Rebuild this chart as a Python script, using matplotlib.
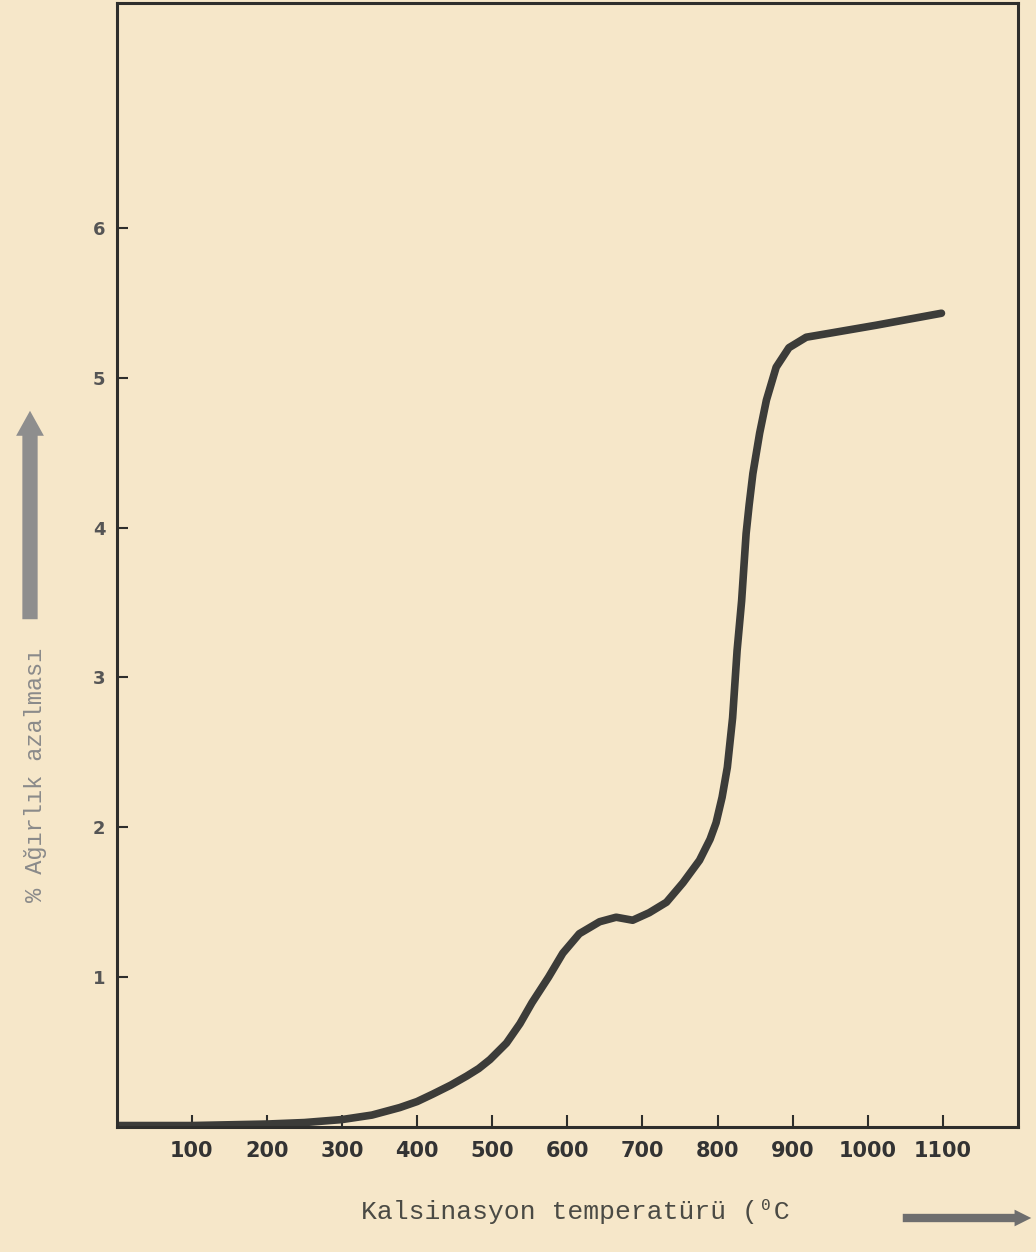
import matplotlib
matplotlib.use('Agg')
import matplotlib.pyplot as plt

# weight loss vs calcination temperature
temp = [0, 100, 200, 250, 300, 340, 377, 400, 421, 445, 466, 482, 497, 519, 537, 553, 575, 594, 616, 643, 665,
        687, 709, 732, 754, 776, 790, 798, 806, 813, 820, 826, 832, 838, 842, 847, 856, 865, 878,
        895, 918, 953, 1011, 1098]
loss = [0.01, 0.01, 0.02, 0.03, 0.05, 0.08, 0.13, 0.17, 0.22, 0.28, 0.34, 0.39, 0.45, 0.56, 0.69, 0.83, 1.00,
        1.16, 1.29, 1.37, 1.40, 1.38, 1.43, 1.50, 1.63, 1.78, 1.92, 2.03, 2.20, 2.40, 2.73, 3.18, 3.51, 3.96,
        4.15, 4.36, 4.63, 4.85, 5.07, 5.20, 5.27, 5.30, 5.35, 5.43]

xticks = [100, 200, 300, 400, 500, 600, 700, 800, 900, 1000, 1100]
yticks = [1, 2, 3, 4, 5, 6]

paper = '#f6e7c9'
ink = '#2e2e2c'

fig = plt.figure(figsize=(10.36, 12.52), dpi=100, facecolor=paper)
ax = fig.add_axes([0.1125, 0.0998, 0.8702, 0.8978], facecolor=paper)

ax.plot(temp, loss, '-', color='#3c3c39', lw=5.5, solid_capstyle='round', solid_joinstyle='round')

ax.set_xlim(0, 1200)
ax.set_ylim(0, 7.5)
ax.set_xticks(xticks)
ax.set_xticklabels([str(t) for t in xticks], fontsize=15, fontweight='bold', color='#333333')
ax.set_yticks(yticks)
ax.set_yticklabels([str(t) for t in yticks], fontsize=13, fontweight='bold', color='#555555')
ax.tick_params(axis='x', direction='in', length=9, width=1.5, color=ink, pad=10)
ax.tick_params(axis='y', direction='in', length=8, width=1.5, color=ink, pad=8)
for s in ax.spines.values():
    s.set_linewidth(2.2)
    s.set_color(ink)

# axis titles written as free text like on the original sheet
fig.text(36 / 1036, 1 - 775 / 1252, '% Ağırlık azalması', rotation=90, ha='center', va='center',
         fontsize=17, color='#8a8a8a', family=['Liberation Mono', 'DejaVu Sans Mono'])
fig.text(361 / 1036, 1 - 1212 / 1252, 'Kalsinasyon temperatürü (⁰C', ha='left', va='center',
         fontsize=19, color='#4a4a44', family=['Liberation Mono', 'DejaVu Sans Mono', 'DejaVu Sans'])

# arrows
ax.annotate('', xy=(30, 1252 - 408), xytext=(30, 1252 - 622), xycoords='figure pixels',
            textcoords='figure pixels',
            arrowprops=dict(arrowstyle='simple,head_width=1.0,head_length=0.9,tail_width=0.55',
                            mutation_scale=20, color='#8e8e8e', lw=0))
ax.annotate('', xy=(1034, 1252 - 1218), xytext=(900, 1252 - 1218), xycoords='figure pixels',
            textcoords='figure pixels',
            arrowprops=dict(arrowstyle='simple,head_width=1.2,head_length=1.2,tail_width=0.6',
                            mutation_scale=10, color='#6e6e6e', lw=0))

plt.savefig('out.png', dpi=100, facecolor=paper)
